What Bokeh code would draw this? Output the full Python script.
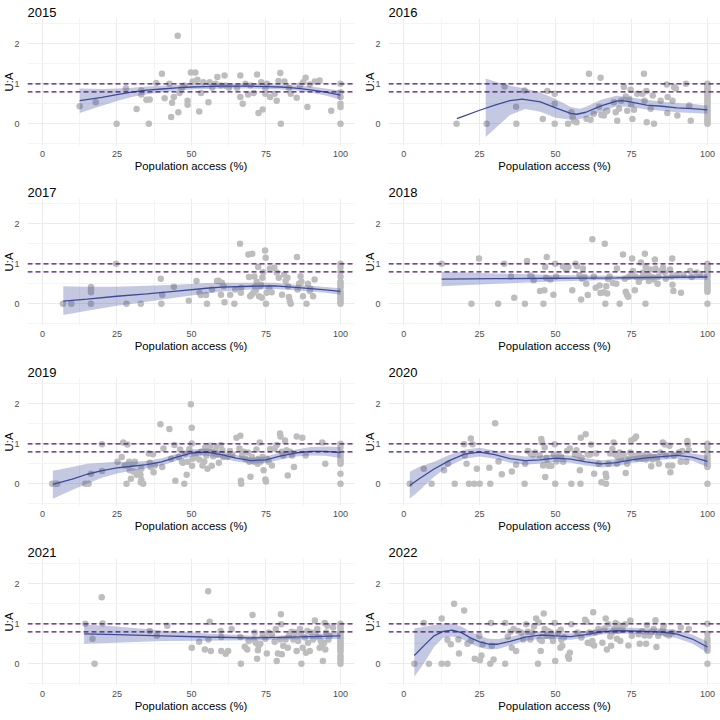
from bokeh.plotting import figure
from bokeh.layouts import gridplot
from bokeh.models import FixedTicker, Span, Range1d
from bokeh.embed import file_html
from bokeh.resources import INLINE

YEARS = ["2015", "2016", "2017", "2018", "2019", "2020", "2021", "2022"]
X_TICKS = [0, 25, 50, 75, 100]
X_MINOR = [12.5, 37.5, 62.5, 87.5]
Y_TICKS = [0, 1, 2]
Y_MINOR = [-0.5, 0.5, 1.5, 2.5]
THRESHOLDS = [0.8, 1.0]
X_LABEL = "Population access (%)"
Y_LABEL = "U:A"

# ---- scatter points (x = population access %, y = U:A) ----
P2015 = [(12.5,0.44),(17.9,0.54),(24.9,0),(28,0.89),(31.6,0.37),(33.2,0.83),(33.2,0.73),(34.9,0.6),(36,0.61),(35.7,0),
         (38.2,1.02),(40.1,1.25),(41,0.64),(42.6,1.0),(43.2,0.17),(43.5,0.53),(44.1,0.67),(45.4,2.2),(45.6,0.29),(46,0.77),
         (46.7,0.88),(47.6,0.96),(48.7,0.58),(48.7,0.48),(49.8,1.28),(51.3,1.28),(50.4,1.06),(52,1.1),(52.6,0.31),(53.2,0.77),
         (54,1.04),(55.7,0.54),(56.1,1.04),(57,0.9),(58.1,1.0),(58.7,1.17),(59.8,0.96),(61.1,1.21),(61.5,0.96),(62.6,0.9),
         (65.3,0.9),(66.4,1.21),(66.4,0.67),(67.2,0.5),(68.1,1.0),(69,0.73),(69.8,0.96),(70.9,0.77),(72,1.23),(72.5,0.27),
         (73.9,0.36),(73.4,1.04),(74.8,0.88),(74.8,0.75),(75.3,1.0),(76.4,0.67),(77.9,0.75),(78.6,0.58),(79.2,1.07),(79.8,1.27),
         (80,0),(81.2,1.06),(82.7,0.9),(83.3,0.75),(85.3,0.65),(86.4,0.96),(87.5,1.04),(88.3,1.15),(88.9,0.42),(89.7,0.98),
         (91.4,1.06),(93,1.08),(96.9,0.33),(100,1.0),(100,0.79),(100,0.67),(100,0.5),(100,0.42),(100,0)]
P2016 = [(17.4,0),(27.3,0),(33.2,0.93),(37,0.43),(37.1,0),(39.8,0.83),(45.8,0.12),(47.3,0.82),(49.7,0.75),(49.7,0.5),
         (49.7,0),(54.1,0),(55.2,0.29),(55.6,0.17),(56,0.07),(56.9,0.04),(60.2,0.13),(61,1.25),(61.5,0.1),(62.6,0.25),
         (64.3,0.43),(64.8,1.15),(65.1,0.22),(65.9,0.21),(66.5,0.3),(67,0.33),(69.2,0.54),(69.8,0.29),(70.3,0.08),(70.9,0.38),
         (71.6,0.58),(72.5,0.92),(73.1,0.68),(73.6,0.33),(74.2,0.63),(74.7,0.85),(74.9,0.48),(75.3,0.12),(75.8,0.35),(76.9,0.75),
         (78.6,0.75),(79.1,1.25),(79.3,0.58),(79.9,0.82),(80,0.04),(81.3,0.38),(82,0.71),(82.4,0),(84.6,0.58),(86.6,0.98),
         (86.8,0.27),(86.9,0.67),(88.5,0.58),(89,0.92),(89.6,0.88),(90.1,0.21),(92.9,1.0),(94,0.46),(94.5,0.08),
         (100,1.0),(100,0.95),(100,0.9),(100,0.85),(100,0.8),(100,0.75),(100,0.7),(100,0.65),(100,0.6),(100,0.55),(100,0.5),
         (100,0.45),(100,0.4),(100,0.35),(100,0.3),(100,0.25),(100,0.2),(100,0.15),(100,0.1),(100,0.05),(100,0)]
P2017 = [(6.9,0),(9.7,0),(16.3,0.42),(16.3,0.36),(16.3,0.29),(16.3,0),(24.7,1.0),(28.2,0),(33,0),(39.7,0.63),
         (39.9,0),(40.2,0.23),(44.1,0.43),(49.1,0.08),(51.7,0.57),(52.7,0.28),(53.2,0.22),(54.9,0.22),(55.2,0),(56.9,0.36),
         (58.6,0.57),(59.1,0.58),(59.9,0.23),(60.2,0.53),(60.8,0.44),(61.1,0.04),(63,0.23),(64.4,0),(64.7,0.36),(66.3,1.5),
         (66.6,0.28),(66.7,0.4),(69.1,1.23),(69.3,0.67),(69.7,0.19),(70.2,0.23),(70.4,1.25),(70.8,0.28),(71.1,0.68),(71.3,0.42),
         (71.6,0.34),(71.9,0.55),(72.4,0.92),(72.7,0.19),(73,0.44),(73.3,0.48),(73.6,0.15),(73.8,0.65),(74.1,0.79),(74.7,1.33),
         (74.9,1.15),(75,0),(75.2,0.28),(76.1,0.4),(76.3,0.88),(76.9,0.29),(77.8,0.9),(78.6,0.78),(79.3,0.65),(80.4,0.23),
         (81.1,0.73),(81.6,0.57),(82.2,0.65),(82.4,0.44),(82.7,0.17),(83,0.07),(83.3,0),(85.4,1.17),(85.6,0.36),(86.1,0.5),
         (86.6,0.69),(86.9,0.55),(87.4,0.19),(88.6,0),(89.1,0.5),(89.7,0.32),(89.9,0.38),(90.8,0.19),(91.3,0.61),
         (100,1.0),(100,0.92),(100,0.8),(100,0.68),(100,0.55),(100,0.5),(100,0.45),(100,0.4),(100,0.3),(100,0.25),
         (100,0.2),(100,0.15),(100,0.1),(100,0.05),(100,0)]
P2018 = [(12.5,1.0),(22.3,0),(24.8,1.13),(31.1,0),(33.1,1.0),(35.3,0.68),(36.4,0.15),(39.9,0),(40.6,1.07),(41.7,0.71),
         (42.1,0.68),(42.8,0.59),(44.9,0.32),(46,0),(46.3,0.34),(46.6,0.92),(47.1,1.17),(46.9,0.65),(48.3,0.61),(49.3,0.23),
         (49.9,1.0),(50.2,0.68),(52.4,0.94),(53.5,0.86),(54.2,0.92),(55.5,0.34),(56.6,1.0),(57.1,0.94),(57.9,0.72),(58.4,0.11),
         (58.7,0.63),(59,0.88),(59.5,0.67),(60.1,0.5),(60.6,0.22),(62.1,1.61),(62.6,0.68),(63.2,0.4),(64.5,0.46),(64.8,0.27),
         (65.9,0.29),(66.2,1.5),(66.4,0),(66.7,0.44),(67,0.26),(67.3,0.62),(67.8,0.68),(68.9,0.52),(70,0.5),(70.2,0.88),
         (71.1,0),(72.2,1.23),(72.8,0.63),(73.1,0.3),(73.5,0.23),(73.9,0.18),(74.2,0.68),(75,0.72),(75.2,1.13),(75.5,0.82),
         (76.1,0.34),(76.3,0.68),(77.4,0.55),(78.1,1.03),(78.3,0.65),(78.8,0.78),(79.4,1.25),(79.6,0),(79.7,0.92),(79.9,0.67),
         (80.5,0.72),(80.7,0.57),(81,0.86),(81.3,0.63),(81.8,0.67),(82.4,0.61),(82.7,1.11),(82.9,0.88),(83.6,0.5),(83.8,0.68),
         (84.7,0.82),(85.4,0.9),(86,0.78),(86.3,0.63),(87.7,0.86),(88.2,0.69),(88.4,1.13),(88.5,0.48),(88.8,0.32),(89.9,0.72),
         (91.3,0.28),(92.1,0.73),(94.3,0.82),(94.8,0.67),(96.5,0.78),(97.6,0.73),
         (100,1.0),(100,0.95),(100,0.9),(100,0.85),(100,0.8),(100,0.72),(100,0.68),(100,0.6),(100,0.55),(100,0.5),
         (100,0.45),(100,0.4),(100,0.35),(100,0.3),(100,0)]
P2019 = [(3.3,0),(4.4,0),(5,0),(14.4,0),(15.5,0),(16.3,0.25),(20,0.99),(20,0.32),(25.2,0.55),(26.6,0.67),
         (27.1,1.03),(27.7,0.46),(28.2,0),(28.5,0.98),(29.1,0.55),(29.3,0.34),(29.7,0.13),(29.9,0.5),(30.5,0.31),(31,0.55),
         (31.6,0.23),(32.1,0.29),(32.9,0.23),(33,0.04),(33.2,0.1),(33.8,0),(33.2,0.38),(35.7,0.76),(36,0.53),(36.3,0.42),
         (37.1,0.74),(37.3,0.29),(37.7,0.46),(39.6,1.49),(40.2,0.42),(40.6,0.88),(42.6,1.37),(43.2,0.63),(44.3,0.97),(44.6,0.08),
         (45.7,0.67),(46.2,0.86),(46.8,0.56),(47.1,0.53),(47.6,0),(47.9,0.76),(48.4,0.23),(48.7,0.55),(49.3,0.87),(49.8,1.99),
         (50.1,1.4),(50.1,1.01),(50.4,0.63),(50.2,0.45),(50.9,0.73),(51.5,0.67),(52.6,0.61),(53.2,0.8),(53.7,0.46),(54.3,0.56),
         (54.6,0.9),(55,0.71),(55.4,0.38),(55.9,0.84),(56.3,0.95),(56.8,0.45),(57.3,0.69),(57.9,0.82),(58.4,0.92),(58.7,0.73),
         (59.2,0.53),(59.8,0.97),(60.4,0.84),(60.7,0.67),(62,0.67),(62.9,0.82),(63.7,0.73),(65.1,1.15),(66.1,0.88),(66.4,1.2),
         (66.6,0.08),(66.7,0),(67,0.71),(67.6,0.8),(68.1,0.63),(69,0.78),(69.4,0.55),(69.8,0.18),(70.3,0.67),(70.9,0.56),
         (71.4,0.55),(71.8,0.86),(72.2,0.5),(72.5,0.63),(72.9,1.03),(73.1,0.55),(73.4,0.61),(73.9,0.67),(74.2,0.34),(74.8,0.11),
         (75,0.06),(75.3,0.63),(75.9,0.55),(76.4,0.87),(77,0.46),(77.9,0.88),(78.6,0.97),(79.7,1.26),(79.9,1.18),(80.3,0.8),
         (80.8,0.71),(81.4,1.08),(81.9,0.84),(82.3,0.21),(83.1,0.8),(83.8,0.71),(84.4,0.42),(85.3,1.18),(87.2,1.15),(88.3,0.71),
         (93.9,1.03),(94.9,0.5),
         (100,1.0),(100,0.92),(100,0.8),(100,0.73),(100,0.67),(100,0.6),(100,0.55),(100,0.5),(100,0.25),(100,0)]
P2020 = [(2,0),(6.6,0.38),(9.2,0),(13.3,0.34),(14.6,0.5),(16.8,0),(19.9,0.99),(20.1,0.71),(20.7,0.5),(21.5,0),
         (22.1,1.13),(22.7,0.99),(23.2,0),(24.1,0.38),(25,0),(28.2,0.4),(28.5,0),(30.1,1.51),(31.2,0.56),(32.3,0.24),
         (35.6,0.31),(37,0.48),(39.8,0),(40,0.5),(40.9,0.82),(41.8,0.76),(42.5,0.73),(43.3,0.78),(44.8,0.71),(45.3,1.12),
         (45.5,1.03),(45.9,0.46),(46.4,0.91),(46.6,0.17),(47,0.65),(47.3,0.5),(47.8,0.45),(48.6,0.45),(49.4,0.73),(49.7,0.99),
         (49.9,0),(50.3,0.56),(51,0.71),(51.9,0.67),(52.5,0.55),(53.8,0.82),(54.7,0.88),(55.2,0),(56.4,0.73),(56.9,0.84),
         (57.7,0.71),(58,0.34),(58.2,0),(58.3,1.15),(58.6,0.65),(59.9,1.24),(60.6,0.73),(61.4,0.73),(61.7,0.98),(62.7,0.25),
         (63.4,0.76),(64.2,0.5),(65.1,0.04),(66.5,0.25),(66.7,0.17),(66.6,0),(67.4,0.5),(68,0.76),(68.7,0.87),(69.1,1.03),
         (69.6,0.73),(70.2,0.5),(70.5,0.67),(71.1,0.78),(71.6,0.63),(72.4,0.73),(73.1,0.27),(73.6,0.5),(74,0.63),(74.6,0.78),
         (74.9,1.08),(75.4,0.71),(76,1.13),(76.5,1.18),(76.8,0.63),(77.3,0.73),(78.5,0.63),(79,0.71),(79.8,0.61),(80.9,0.71),
         (81.5,0.44),(81.9,0.61),(82.6,0.67),(83.4,0.63),(84,0.5),(84.5,0.78),(85.3,1.03),(86,0.98),(86.4,0.71),(87.1,0.46),
         (87.5,0.95),(87.8,0.29),(88.4,0.46),(88.9,0.71),(90.6,0.78),(91.2,0.55),(91.7,0.82),(93,0.55),(93.4,1.07),(93.6,0.98),
         (93.9,0.84),
         (100,1.0),(100,0.92),(100,0.8),(100,0.71),(100,0.63),(100,0.55),(100,0.5),(100,0.46),(100,0.42),(100,0)]
P2021 = [(14.4,1.0),(16.8,0.63),(17.5,0),(19.9,1.66),(20.2,1.01),(36,0.82),(38.4,0.7),(41.9,0.95),(50.1,0.4),(52.6,0.55),
         (54.5,0.36),(55.6,1.81),(55.7,0.61),(56.1,1.05),(56.5,0.32),(59.8,0.82),(60,0.67),(60,0.32),(61.5,0.25),(62.3,0.32),
         (63.5,0.87),(66.4,0.67),(66.6,0),(67.9,0.43),(68.7,0.36),(69.2,0.57),(70.5,1.22),(70.9,0.61),(71.2,0.78),(71.6,0.53),
         (72,0.13),(72.3,0.34),(72.5,0.45),(73.1,0.5),(73.9,0.74),(74.8,0.63),(75.3,0.26),(75.9,0.78),(77,0.74),(77.9,0.55),
         (78.3,0.87),(78.6,0.07),(79,0.26),(79.7,0.61),(80,1.24),(80.1,0.99),(80.3,0.24),(80.8,0.45),(81.6,0.61),(82.3,0.4),
         (82.7,0.7),(83.6,0.8),(84.2,0.61),(84.7,0.78),(85.3,0.32),(85.8,0.57),(86.4,0.87),(86.7,0.78),(86.9,0),(87.3,0.4),
         (88,0.66),(88.4,0.28),(88.9,0.82),(89.1,0.53),(89.7,0.32),(90.3,0.78),(90.8,0.61),(91.4,1.08),(91.7,0.78),(92.2,0.87),
         (92.7,0.66),(93,0.4),(93.4,0.57),(93.8,0.45),(94.1,0.07),(94.5,0.53),(94.7,1.02),(94.9,0.36),(95.2,0.78),(95.6,0.95),
         (96,0.61),(96.3,0.7),(97.5,0.91),
         (100,1.0),(100,0.95),(100,0.9),(100,0.85),(100,0.8),(100,0.75),(100,0.7),(100,0.65),(100,0.6),(100,0.55),
         (100,0.5),(100,0.45),(100,0.4),(100,0.35),(100,0.3),(100,0.2),(100,0.15),(100,0.08),(100,0)]
P2022 = [(3.5,0),(6.6,1.02),(8.3,0),(12.5,1.13),(12.5,0),(14.4,0),(14.4,0.6),(15.5,0.49),(16.6,1.5),(18,0.61),
         (18.2,0.26),(19.9,1.33),(21,0.5),(22.1,0.57),(23.4,0.13),(24.9,0.7),(25.1,0.09),(25.6,0.21),(26,0.49),(28.5,0),
         (28.7,1.02),(29,0.45),(29.6,0.11),(33.4,0),(33.4,1.02),(34.3,0.68),(35.1,0.8),(35.6,0.4),(36.2,0.87),(37,0.32),
         (37.6,0.82),(38.7,0.78),(39.4,0.61),(40.3,0.99),(40.9,0.8),(41.7,0.61),(42.3,0.78),(42.9,0.93),(43.6,1.13),(44.2,0),
         (44.4,1.03),(44.8,0.61),(45.1,0.32),(45.5,0.57),(46.1,1.26),(46.4,0.87),(47,0.7),(47.5,0.82),(48.4,0.78),(48.8,0.66),
         (49.2,0.57),(49.7,1.02),(49.9,0.07),(50.8,0.78),(51.6,0.4),(51.7,0.85),(51.9,0.6),(52.2,0.45),(52.8,0.66),(54.1,0.19),
         (54.4,0.13),(54.7,0.28),(55.2,0.99),(57.2,0.78),(58.5,0.66),(59.7,1.1),(60.2,1.05),(60.6,0.53),(61.1,0.78),(61.7,0.51),
         (62.1,0.57),(62.4,1.29),(62.7,0.46),(63,0.78),(64.1,0.87),(64.6,0.82),(65.4,0.53),(66.1,0.88),(66.5,1.13),(66.9,0.36),
         (67.4,0.99),(68,0.68),(68.3,0.45),(68.7,0.78),(69.4,0.88),(69.8,1.02),(70.2,0.63),(70.5,0.82),(70.7,0.97),(71.3,0.57),
         (71.6,0.91),(72,0.85),(72.9,0.99),(74,0.46),(74.6,1.08),(75.1,0.7),(77.3,0.74),(77.7,0.5),(78.5,0.81),(79.3,0.71),
         (79.8,0.5),(80.1,0.97),(80.9,0.71),(81.5,0.78),(82.3,0.87),(82.9,1.09),(83.2,0.42),(83.8,0.7),(84.5,0.78),(85.4,0.87),
         (85.6,0.95),(86.4,0.74),(87.3,0.71),(88.4,0.78),(91.2,0.91),(93.9,0.87),
         (100,1.0),(100,0.75),(100,0.63),(100,0.55),(100,0.45),(100,0.4),(100,0.33),(100,0)]

# ---- smoothed fit ----
FX_2015 = [12.5,20,25,30,35,40,45,50,55,60,65,70,75,80,85,90,95,100]
FY_2015 = [0.58,0.66,0.73,0.79,0.84,0.87,0.90,0.92,0.93,0.94,0.94,0.94,0.93,0.92,0.89,0.85,0.79,0.72]
RX_2015 = FX_2015
RL_2015 = [0.27,0.45,0.57,0.67,0.74,0.79,0.83,0.86,0.87,0.88,0.88,0.88,0.87,0.86,0.83,0.78,0.71,0.60]
RH_2015 = [0.88,0.87,0.88,0.90,0.93,0.95,0.97,0.98,0.99,1.00,1.00,1.00,0.99,0.98,0.96,0.93,0.88,0.83]

FX_2016 = [17.5,20,25,30,35,39,45,50,55,57,60,65,70,72,75,80,85,90,95,100]
FY_2016 = [0.13,0.20,0.34,0.47,0.58,0.62,0.55,0.40,0.26,0.24,0.29,0.45,0.57,0.58,0.54,0.47,0.44,0.40,0.38,0.35]
RX_2016 = [27,30,35,40,45,50,55,58,60,65,70,75,80,85,90,95,100]
RL_2016 = [-0.33,-0.12,0.22,0.37,0.30,0.15,0.10,0.12,0.16,0.30,0.44,0.42,0.36,0.33,0.29,0.27,0.25]
RH_2016 = [1.13,1.06,0.95,0.88,0.78,0.62,0.42,0.38,0.43,0.60,0.70,0.66,0.60,0.55,0.52,0.50,0.45]

FX_2017 = [7,15,25,35,45,55,60,70,78,85,90,95,100]
FY_2017 = [0.07,0.12,0.19,0.25,0.32,0.39,0.42,0.44,0.45,0.41,0.38,0.35,0.31]
RX_2017 = FX_2017
RL_2017 = [-0.28,-0.17,-0.05,0.05,0.16,0.26,0.31,0.36,0.37,0.34,0.31,0.28,0.23]
RH_2017 = [0.44,0.43,0.43,0.45,0.48,0.52,0.53,0.53,0.53,0.48,0.45,0.42,0.39]

FX_2018 = [12.5,30,50,70,85,100]
FY_2018 = [0.62,0.63,0.64,0.65,0.66,0.67]
RX_2018 = FX_2018
RL_2018 = [0.44,0.50,0.56,0.60,0.61,0.60]
RH_2018 = [0.80,0.76,0.72,0.70,0.71,0.74]

FX_2019 = [3.5,10,15,20,25,30,35,40,45,50,55,60,65,70,75,80,85,90,95,100]
FY_2019 = [-0.01,0.12,0.24,0.33,0.40,0.44,0.48,0.55,0.67,0.77,0.79,0.73,0.64,0.58,0.60,0.70,0.77,0.81,0.81,0.78]
RX_2019 = FX_2019
RL_2019 = [-0.37,-0.15,0.0,0.15,0.26,0.33,0.39,0.46,0.58,0.68,0.71,0.64,0.56,0.50,0.52,0.61,0.68,0.71,0.70,0.64]
RH_2019 = [0.33,0.42,0.50,0.53,0.55,0.55,0.57,0.64,0.75,0.86,0.88,0.82,0.72,0.66,0.68,0.79,0.86,0.92,0.93,0.92]

FX_2020 = [2,5,10,15,20,25,30,35,40,45,50,55,60,65,70,75,80,85,90,95,100]
FY_2020 = [-0.04,0.12,0.37,0.58,0.74,0.79,0.73,0.63,0.58,0.60,0.64,0.62,0.55,0.50,0.53,0.60,0.65,0.68,0.71,0.67,0.56]
RX_2020 = FX_2020
RL_2020 = [-0.37,-0.18,0.18,0.45,0.63,0.68,0.63,0.53,0.48,0.51,0.55,0.53,0.46,0.41,0.44,0.52,0.57,0.60,0.63,0.58,0.42]
RH_2020 = [0.30,0.42,0.55,0.72,0.85,0.90,0.83,0.73,0.68,0.70,0.73,0.71,0.64,0.59,0.62,0.68,0.73,0.76,0.79,0.76,0.70]

FX_2021 = [14,25,40,55,70,80,90,100]
FY_2021 = [0.75,0.73,0.70,0.67,0.65,0.66,0.68,0.70]
RX_2021 = FX_2021
RL_2021 = [0.50,0.53,0.57,0.58,0.59,0.61,0.62,0.62]
RH_2021 = [0.98,0.93,0.83,0.76,0.71,0.71,0.74,0.78]

FX_2022 = [3.5,7,10,13,16,19,22,25,28,31,35,40,45,50,55,60,65,70,75,80,85,90,95,100]
FY_2022 = [0.21,0.48,0.70,0.81,0.84,0.78,0.65,0.55,0.49,0.49,0.56,0.67,0.72,0.70,0.68,0.73,0.80,0.83,0.82,0.81,0.79,0.74,0.62,0.42]
RX_2022 = FX_2022
RL_2022 = [-0.32,0.05,0.43,0.65,0.68,0.63,0.50,0.41,0.36,0.37,0.46,0.58,0.63,0.62,0.60,0.66,0.73,0.76,0.75,0.73,0.71,0.64,0.51,0.28]
RH_2022 = [0.88,0.93,0.97,0.99,1.00,0.93,0.80,0.70,0.63,0.62,0.67,0.77,0.81,0.78,0.76,0.81,0.88,0.91,0.90,0.89,0.88,0.84,0.73,0.56]

POINTS = [P2015, P2016, P2017, P2018, P2019, P2020, P2021, P2022]
FITS = [(FX_2015, FY_2015, RX_2015, RL_2015, RH_2015), (FX_2016, FY_2016, RX_2016, RL_2016, RH_2016),
        (FX_2017, FY_2017, RX_2017, RL_2017, RH_2017), (FX_2018, FY_2018, RX_2018, RL_2018, RH_2018),
        (FX_2019, FY_2019, RX_2019, RL_2019, RH_2019), (FX_2020, FY_2020, RX_2020, RL_2020, RH_2020),
        (FX_2021, FY_2021, RX_2021, RL_2021, RH_2021), (FX_2022, FY_2022, RX_2022, RL_2022, RH_2022)]

FONT = "Liberation Sans"
POINT_COLOR = "#BDBDBD"
FIT_COLOR = "#3B4B9A"
DASH_COLOR = "#4A1472"
GRID_MAJOR = "#EBEBEB"
GRID_MINOR = "#F4F4F4"


def make_panel(i):
    left_col = (i % 2 == 0)
    # right-hand column is cut at the page edge, as in the original figure
    x_end = 104.7 if left_col else 104.3
    p = figure(width=360, height=180, output_backend="svg", toolbar_location=None,
               x_range=Range1d(-5, x_end), y_range=Range1d(-0.54, 2.63),
               min_border_left=4, min_border_right=6 if left_col else 0,
               min_border_top=18, min_border_bottom=35,
               title=YEARS[i])
    p.outline_line_color = None
    p.background_fill_color = "white"
    p.border_fill_color = "white"
    p.title.text_font = FONT
    p.title.text_font_size = "13px"
    p.title.text_font_style = "normal"
    p.title.text_color = "black"
    p.title.align = "left"
    p.title.vertical_align = "top"
    p.title.text_line_height = 0.75
    p.title.standoff = 0

    p.xaxis.ticker = FixedTicker(ticks=X_TICKS, minor_ticks=X_MINOR)
    p.yaxis.ticker = FixedTicker(ticks=Y_TICKS, minor_ticks=Y_MINOR)
    p.xaxis.axis_label = X_LABEL
    p.yaxis.axis_label = Y_LABEL
    for ax in (p.xaxis, p.yaxis):
        ax.axis_line_color = None
        ax.major_tick_line_color = None
        ax.minor_tick_line_color = None
        ax.major_tick_out = 0
        ax.major_tick_in = 0
        ax.major_label_text_font = FONT
        ax.major_label_text_font_size = "9px"
        ax.major_label_text_color = "#4D4D4D"
        ax.axis_label_text_font = FONT
        ax.axis_label_text_font_size = "11.3px"
        ax.axis_label_text_font_style = "normal"
        ax.axis_label_text_color = "black"
    p.xaxis.major_label_standoff = 1
    p.xaxis.axis_label_standoff = 0
    p.yaxis.major_label_standoff = 4
    p.yaxis.axis_label_standoff = -4
    if not left_col:
        p.min_border_left = 28
    for g in (p.xgrid, p.ygrid):
        g.grid_line_color = GRID_MAJOR
        g.grid_line_width = 1
        g.minor_grid_line_color = GRID_MINOR
        g.minor_grid_line_width = 1

    pts = POINTS[i]
    p.scatter([a for a, b in pts], [b for a, b in pts], size=6.5, fill_color=POINT_COLOR,
              line_color=None)
    fx, fy, rx, rl, rh = FITS[i]
    p.varea(x=rx, y1=rl, y2=rh, fill_color=FIT_COLOR, fill_alpha=0.3)
    p.line(fx, fy, line_color=FIT_COLOR, line_width=1.3)
    for t in THRESHOLDS:
        p.add_layout(Span(location=t, dimension="width", line_color=DASH_COLOR,
                          line_width=1.3, line_dash="5 3"))
    return p


panels = [make_panel(i) for i in range(len(YEARS))]
grid = gridplot([[panels[0], panels[1]], [panels[2], panels[3]],
                 [panels[4], panels[5]], [panels[6], panels[7]]],
                toolbar_location=None)

open("out.html", "w").write(file_html(grid, INLINE))
